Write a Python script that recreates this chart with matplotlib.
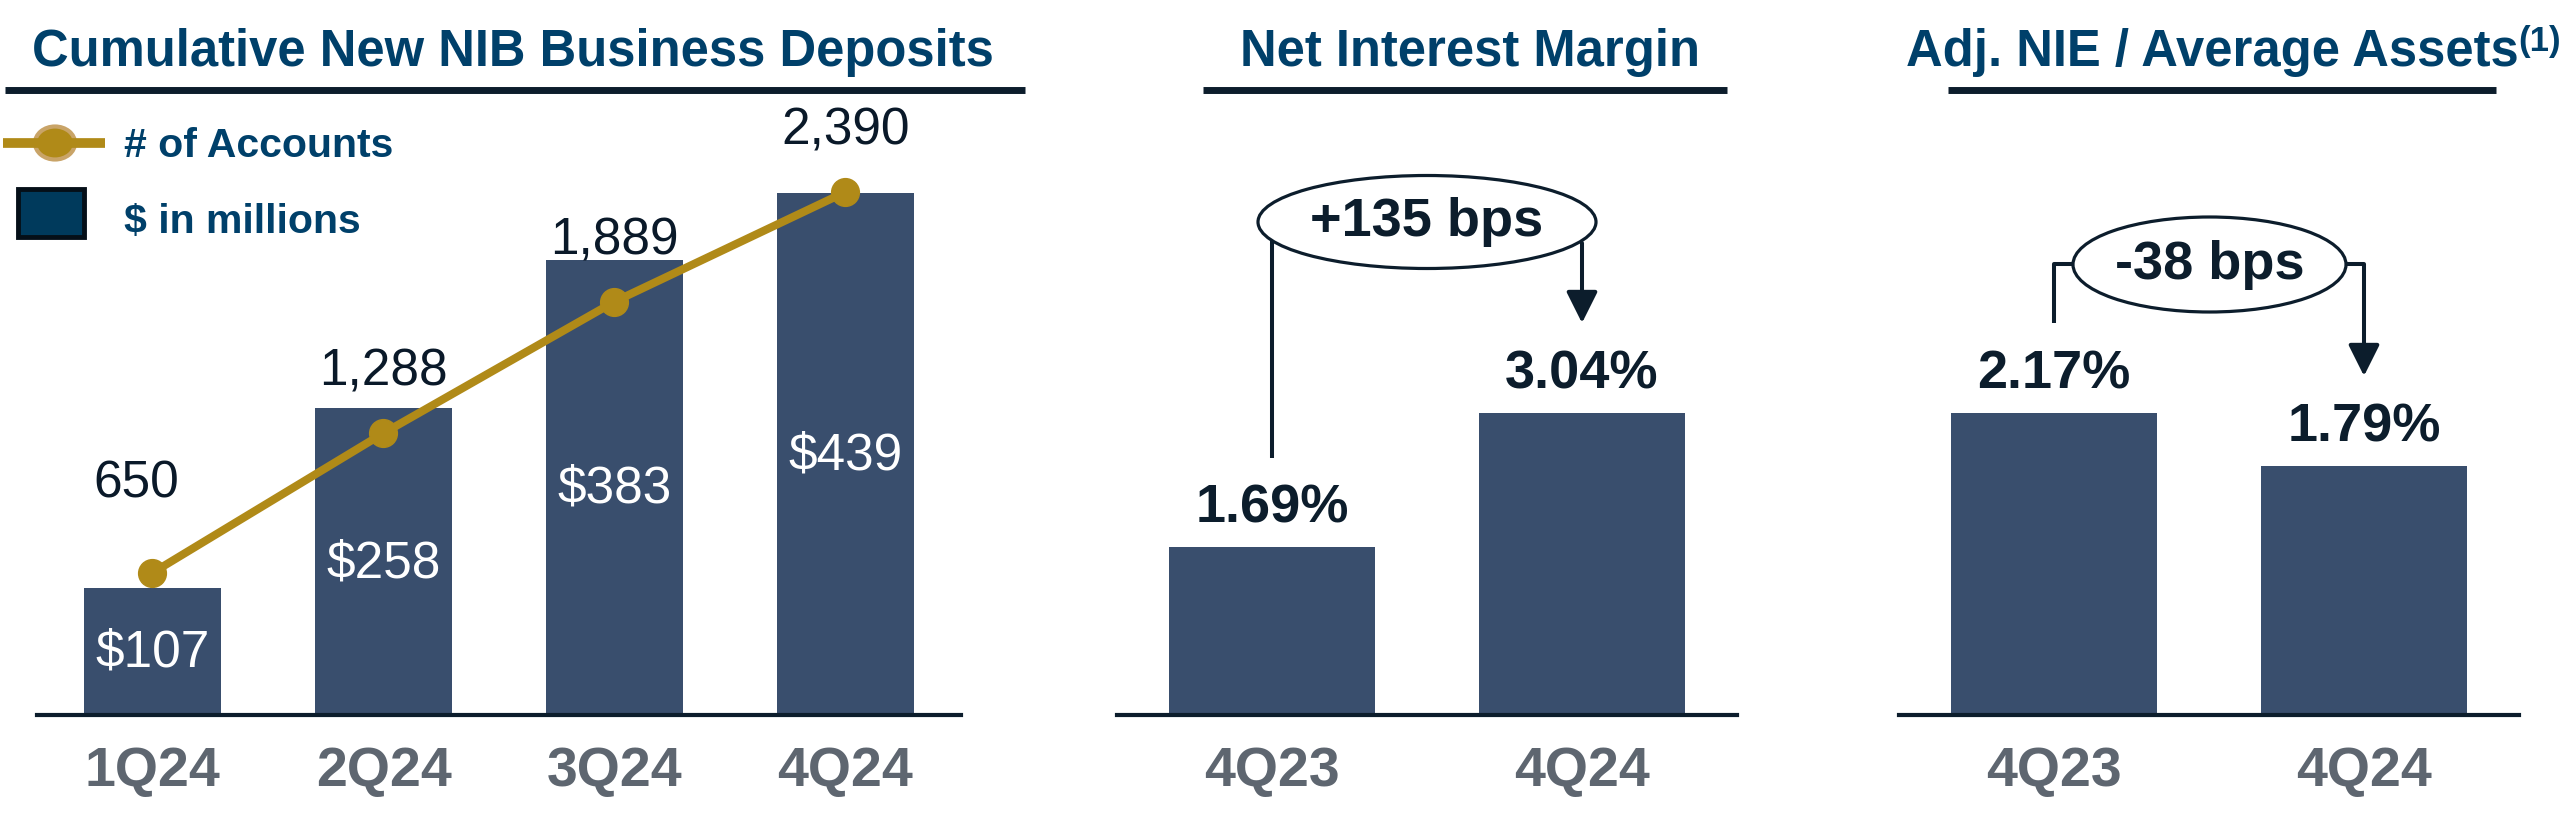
import matplotlib
matplotlib.use("Agg")
import matplotlib.pyplot as plt
from matplotlib.lines import Line2D
from matplotlib.patches import Ellipse, Rectangle, FancyArrowPatch

plt.rcParams['font.family'] = ['Liberation Sans', 'DejaVu Sans']

# data
quarters = ['1Q24', '2Q24', '3Q24', '4Q24']
deposits = [107, 258, 383, 439]        # $ in millions
accounts = [650, 1288, 1889, 2390]     # number of accounts
nim_periods = ['4Q23', '4Q24']
nim = [1.69, 3.04]
nie_periods = ['4Q23', '4Q24']
nie = [2.17, 1.79]

BAR = '#394E6D'
GOLD = '#B08A18'
NAVY = '#00406A'
DARK = '#0C1D2C'
GRAY = '#5E6670'

W, H = 2576, 833
fig = plt.figure(figsize=(W / 100, H / 100), dpi=100)


def fx(x):
    return x / W


def fy(y):
    return 1 - y / H


def box(l, r, top, bot):
    return [l / W, 1 - bot / H, (r - l) / W, (bot - top) / H]


def style_axes(ax, labels):
    for s in ['top', 'left', 'right']:
        ax.spines[s].set_visible(False)
    ax.spines['bottom'].set_linewidth(3)
    ax.spines['bottom'].set_color(DARK)
    ax.set_yticks([])
    ax.set_xticks(range(len(labels)))
    ax.set_xticklabels(labels, fontsize=40, fontweight='bold', color=GRAY)
    ax.tick_params(axis='x', length=0, pad=22)
    ax.set_xlim(-0.5, len(labels) - 0.5)
    ax.patch.set_alpha(0)


def fig_line(xs, ys, lw=5, color=DARK):
    fig.add_artist(Line2D([fx(x) for x in xs], [fy(y) for y in ys],
                          transform=fig.transFigure, lw=lw, color=color,
                          solid_capstyle='butt'))


def fig_arrow(x, y0, y1):
    fig.add_artist(FancyArrowPatch(
        (fx(x), fy(y0)), (fx(x), fy(y1)), transform=fig.transFigure,
        arrowstyle='-|>,head_length=0.4,head_width=0.2', mutation_scale=48,
        lw=2.9, color=DARK, shrinkA=0, shrinkB=0))


def bubble(cx, cy, w, h, text):
    fig.add_artist(Ellipse((fx(cx), fy(cy)), w / W, h / H, transform=fig.transFigure,
                           facecolor='white', edgecolor=DARK, lw=2.3, zorder=5))
    fig.text(fx(cx), fy(cy), text, ha='center', va='center', fontsize=39,
             fontweight='bold', color=DARK, zorder=6)


def pct_labels(ax, vals):
    for i, v in enumerate(vals):
        ax.annotate(f'{v:.2f}%', (i, v), xytext=(0, 27.5), textcoords='offset points',
                    ha='center', va='center', fontsize=39, fontweight='bold', color=DARK)


# ---- panel 1: cumulative new NIB business deposits
ax1 = fig.add_axes(box(37, 961, 100, 715))
x = range(len(quarters))
ax1.bar(x, deposits, width=0.59, color=BAR, zorder=1)
ax1.set_ylim(0, max(deposits) * 615 / 522)
for i, v in enumerate(deposits):
    ax1.annotate(f'${v}', (i, v / 2), xytext=(0, -1.5), textcoords='offset points',
                 ha='center', va='center', color='white', fontsize=37)
style_axes(ax1, quarters)

ax1b = ax1.twinx()
ax1b.plot(x, accounts, color=GOLD, lw=5.8, marker='o', ms=20, zorder=3)
ax1b.set_ylim(0, max(accounts) * 615 / 523)
ax1b.axis('off')
for i, v in enumerate(accounts):
    off = (-11.5, 64) if i == 0 else (0, 44)
    ax1b.annotate(f'{v:,}', (i, v), xytext=off, textcoords='offset points',
                  ha='center', va='center', fontsize=37, color='#0A1929')

# ---- panel 2: net interest margin
ax2 = fig.add_axes(box(1117, 1737, 100, 715))
ax2.bar(range(len(nim)), nim, width=0.667, color=BAR)
ax2.set_ylim(0, max(nim) * 615 / 302)
pct_labels(ax2, nim)
style_axes(ax2, nim_periods)

# ---- panel 3: adj. NIE / average assets
ax3 = fig.add_axes(box(1899, 2519, 100, 715))
ax3.bar(range(len(nie)), nie, width=0.667, color=BAR)
ax3.set_ylim(0, max(nie) * 615 / 302)
pct_labels(ax3, nie)
style_axes(ax3, nie_periods)

# ---- titles and underlines
fig.text(fx(513), fy(66), 'Cumulative New NIB Business Deposits', ha='center',
         va='baseline', fontsize=36.5, fontweight='bold', color=NAVY)
fig.text(fx(1470), fy(66), 'Net Interest Margin', ha='center', va='baseline',
         fontsize=36.5, fontweight='bold', color=NAVY)
fig.text(fx(1906), fy(66), 'Adj. NIE / Average Assets', ha='left', va='baseline',
         fontsize=36.5, fontweight='bold', color=NAVY)
fig.text(fx(2518), fy(51), '(1)', ha='left', va='baseline', fontsize=25,
         fontweight='bold', color=NAVY)
fig_line([5, 1025], [90, 90], lw=5)
fig_line([1203, 1727], [90, 90], lw=5)
fig_line([1948, 2496], [90, 90], lw=5)

# ---- legend
fig_line([3, 105], [143, 143], lw=7, color=GOLD)
fig.add_artist(Ellipse((fx(55), fy(143)), 40 / W, 33 / H, transform=fig.transFigure,
                       facecolor=GOLD, edgecolor='#C9A468', lw=3))
fig.text(fx(124), fy(157), '# of Accounts', ha='left', va='baseline', fontsize=29.5,
         fontweight='bold', color=NAVY)
fig.add_artist(Rectangle((fx(18), fy(237)), 66 / W, 48 / H, transform=fig.transFigure,
                         facecolor='#003A5C', edgecolor='#050F18', lw=3.5))
fig.text(fx(124), fy(233), '$ in millions', ha='left', va='baseline', fontsize=29.5,
         fontweight='bold', color=NAVY)

# ---- change bubbles with connectors
nim_bps = round((nim[1] - nim[0]) * 100)
nie_bps = round((nie[1] - nie[0]) * 100)
fig_line([1272, 1272], [458, 241], lw=2.9)
fig_arrow(1582, 243, 323)
bubble(1427, 222, 338, 93, f'{nim_bps:+d} bps')

fig_line([2073, 2054, 2054], [264, 264, 323], lw=2.9)
fig_line([2346, 2364], [264, 264], lw=2.9)
fig_arrow(2364, 264, 376)
bubble(2209.5, 264.5, 273, 95, f'{nie_bps:+d} bps')

fig.savefig('out.png', dpi=100, facecolor='white')
